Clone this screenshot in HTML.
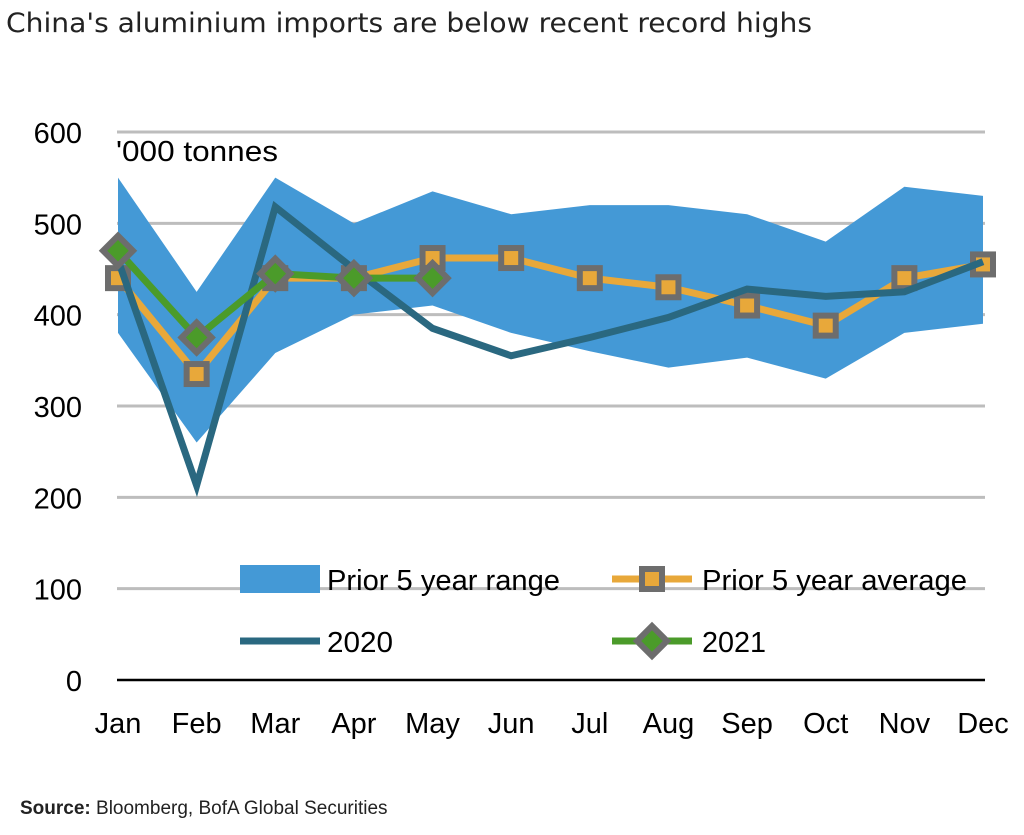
<!DOCTYPE html>
<html><head><meta charset="utf-8"><style>
body{margin:0;background:#fff;width:1024px;height:835px;overflow:hidden}
svg{display:block}
text{font-family:"Liberation Sans",sans-serif}
</style></head><body>
<svg id="c" width="1024" height="835" xmlns="http://www.w3.org/2000/svg">
<text x="6" y="32" font-size="27" fill="#222" style="font-family:'DejaVu Sans Condensed','Liberation Sans Narrow','Liberation Sans',sans-serif" textLength="806" lengthAdjust="spacingAndGlyphs">China's aluminium imports are below recent record highs</text>
<text x="116" y="161" font-size="29" fill="#000" textLength="162" lengthAdjust="spacingAndGlyphs">'000  tonnes</text>
<g id="grid"></g><g id="ylab"></g><g id="xlab"></g><g id="series"></g>
<g>
<rect x="240" y="565" width="80" height="28" fill="#4499d6"/>
<text x="327" y="590" font-size="29" textLength="233" lengthAdjust="spacingAndGlyphs">Prior 5 year range</text>
<line x1="612" y1="579" x2="692" y2="579" stroke="#e8a83a" stroke-width="7"/>
<rect x="642" y="569" width="20" height="20" fill="#e8a83a" stroke="#6d6d6d" stroke-width="6"/>
<text x="702" y="590" font-size="29" textLength="265" lengthAdjust="spacingAndGlyphs">Prior 5 year average</text>
<line x1="240" y1="641" x2="320" y2="641" stroke="#2a6880" stroke-width="7"/>
<text x="327" y="652" font-size="29" textLength="66" lengthAdjust="spacingAndGlyphs">2020</text>
<line x1="612" y1="641" x2="692" y2="641" stroke="#4b9b2a" stroke-width="7"/>
<polygon points="652,626 667,641 652,656 637,641" fill="#4b9b2a" stroke="#6d6d6d" stroke-width="6"/>
<text x="702" y="652" font-size="29" textLength="64" lengthAdjust="spacingAndGlyphs">2021</text>
</g>
<text x="20" y="814" font-size="19" fill="#222"><tspan font-weight="bold">Source:</tspan> Bloomberg, BofA Global Securities</text>
</svg>
<script>
const months=["Jan","Feb","Mar","Apr","May","Jun","Jul","Aug","Sep","Oct","Nov","Dec"];
const yTicks=[0,100,200,300,400,500,600];
const rangeHigh=[550,425,550,500,535,510,520,520,510,480,540,530];
const rangeLow=[380,260,358,400,410,380,360,342,353,330,380,390];
const avg5y=[440,335,440,440,462,462,440,430,410,388,440,455];
const y2020=[460,213,518,450,385,355,375,397,428,420,425,458];
const y2021=[470,375,445,440,440];
const NS="http://www.w3.org/2000/svg";
const X=i=>118+i*(983-118)/11;
const Y=v=>680-v*(680-132)/600;
function el(t,a,p){const e=document.createElementNS(NS,t);for(const k in a)e.setAttribute(k,a[k]);document.getElementById(p).appendChild(e);return e;}
yTicks.forEach(v=>{
 if(v>0){const g=el('line',{x1:117,x2:985,y1:Y(v),y2:Y(v),stroke:'#bdbdbd','stroke-width':3},'grid');
 
 }
 const t=el('text',{x:82,y:Y(v)+11,'font-size':29,'text-anchor':'end'},'ylab');t.textContent=v;
 
 
});
months.forEach((m,i)=>{const t=el('text',{x:X(i),y:733,'font-size':29,'text-anchor':'middle'},'xlab');t.textContent=m;
 
 });
const pts=a=>a.map((v,i)=>X(i)+','+Y(v)).join(' ');
const band=el('polygon',{points:pts(rangeHigh)+' '+rangeLow.map((v,i)=>[X(i),Y(v)]).reverse().map(p=>p.join(',')).join(' '),fill:'#4499d6'},'series');


const ax=el('line',{x1:117,x2:985,y1:Y(0),y2:Y(0),stroke:'#000','stroke-width':2.5},'series');


const la=el('polyline',{points:pts(avg5y),fill:'none',stroke:'#e8a83a','stroke-width':7,'stroke-linejoin':'round'},'series');


avg5y.forEach((v,i)=>{const r=el('rect',{x:X(i)-10,y:Y(v)-10,width:20,height:20,fill:'#e8a83a',stroke:'#6d6d6d','stroke-width':6},'series');
 
 });
const l20=el('polyline',{points:pts(y2020),fill:'none',stroke:'#2a6880','stroke-width':7,'stroke-linejoin':'miter'},'series');


const l21=el('polyline',{points:pts(y2021),fill:'none',stroke:'#4b9b2a','stroke-width':7},'series');


y2021.forEach((v,i)=>{const x=X(i),y=Y(v);const p=el('polygon',{points:`${x},${y-15} ${x+15},${y} ${x},${y+15} ${x-15},${y}`,fill:'#4b9b2a',stroke:'#6d6d6d','stroke-width':6},'series');
 
 });
</script>
</body></html>
